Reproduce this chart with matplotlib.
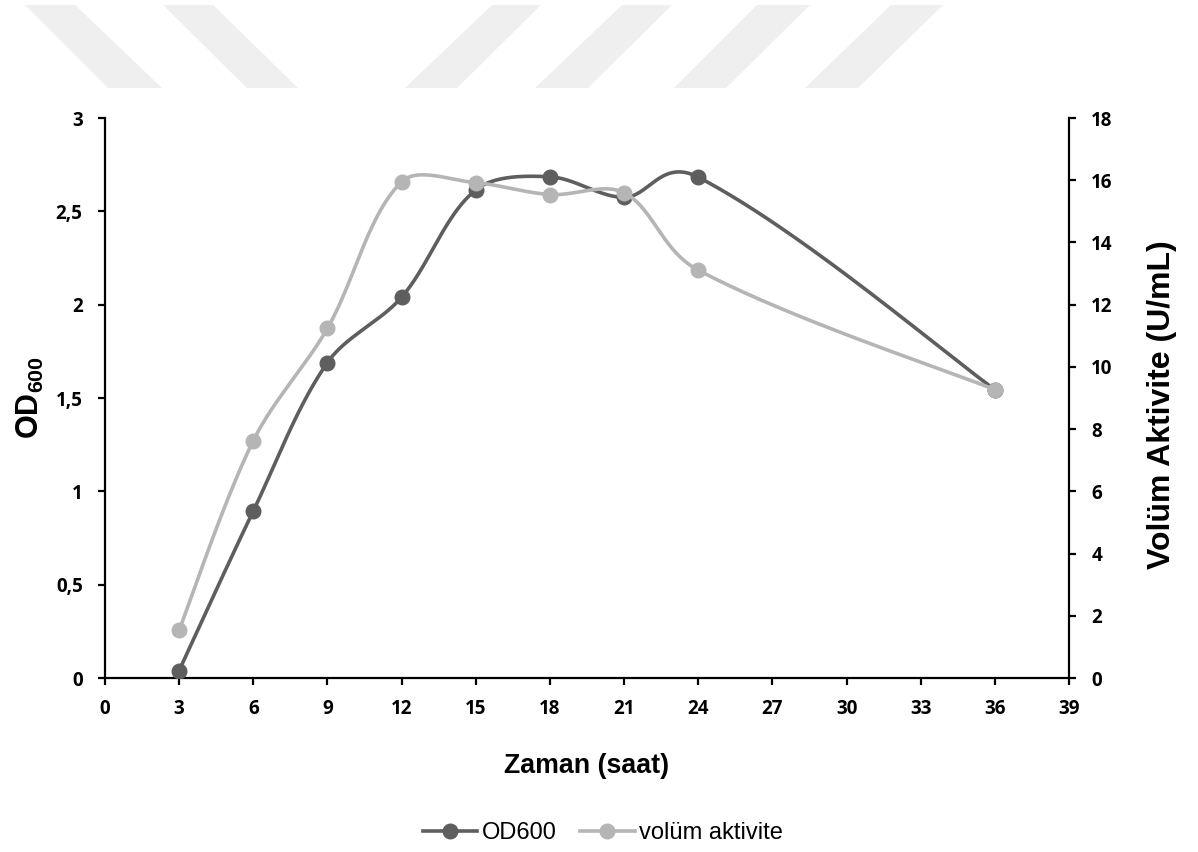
import numpy as np
import matplotlib
matplotlib.use("Agg")
import matplotlib.pyplot as plt
from matplotlib.patches import Polygon
from matplotlib.lines import Line2D

# ---- data ----
hours = [3, 6, 9, 12, 15, 18, 21, 24, 36]
od600 = [0.04, 0.895, 1.69, 2.04, 2.615, 2.685, 2.575, 2.683, 1.545]
activity = [1.54, 7.63, 11.24, 15.95, 15.92, 15.54, 15.6, 13.11, 9.27]
x_ticks = list(range(0, 40, 3))
left_ticks = [0, 0.5, 1, 1.5, 2, 2.5, 3]
right_ticks = list(range(0, 19, 2))
series_names = ['OD600', 'volüm aktivite']

DARK = "#5E5E5E"
LIGHT = "#B5B5B5"

plt.rcParams['mathtext.fontset'] = 'custom'
plt.rcParams['mathtext.rm'] = 'Liberation Sans'
plt.rcParams['mathtext.bf'] = 'Liberation Sans:bold'

W, H = 1198, 852
fig = plt.figure(figsize=(W / 100, H / 100), dpi=100)

# watermark stripes (figure pixel coords -> fraction)
stripes = [
    [(25, 5), (75, 5), (162, 88), (108, 88)],
    [(163, 5), (213, 5), (298, 88), (247, 88)],
    [(492, 5), (541, 5), (457, 88), (405, 88)],
    [(622, 5), (672, 5), (588, 88), (535, 88)],
    [(757, 5), (810, 5), (726, 88), (674, 88)],
    [(891, 5), (943, 5), (858, 88), (805, 88)],
]
for s in stripes:
    pts = [(px / W, 1 - py / H) for px, py in s]
    fig.patches.append(Polygon(pts, closed=True, transform=fig.transFigure,
                               facecolor="#EFEFEF", edgecolor="none", zorder=0))

ax_l, ax_r, ax_t, ax_b = 105, 1069, 118, 678
ax = fig.add_axes([ax_l / W, 1 - ax_b / H, (ax_r - ax_l) / W, (ax_b - ax_t) / H])
ax.patch.set_alpha(0)
ax2 = ax.twinx()

XMAX, Y1MAX, Y2MAX = 39, 3, 18
pw, ph = ax_r - ax_l, ax_b - ax_t


def smooth(xs, ys, ymax, n=60):
    # Excel-like smoothed line: cubic Bezier, tangents from neighbours,
    # arm lengths scaled by chord ratio (computed in screen space)
    px = np.array(xs, float) / XMAX * pw
    py = np.array(ys, float) / ymax * ph
    P = np.column_stack([px, py])
    m = len(P)
    tang = []
    for i in range(m):
        p0 = P[i - 1] if i > 0 else P[i]
        p2 = P[i + 1] if i + 1 < m else P[i]
        tang.append(p2 - p0)
    out = [P[0]]
    for i in range(m - 1):
        p1, p2 = P[i], P[i + 1]
        d12 = np.linalg.norm(p2 - p1)
        d01 = np.linalg.norm(p1 - P[i - 1]) if i > 0 else d12
        d23 = np.linalg.norm(P[i + 2] - p2) if i + 2 < m else d12
        f1 = d12 / (d01 + d12) / 3 if i > 0 else 1 / 6
        f2 = d12 / (d12 + d23) / 3 if i + 2 < m else 1 / 6
        f2 = max(f2, 0.1)
        c1 = p1 + tang[i] * f1
        c2 = p2 - tang[i + 1] * f2
        t = np.linspace(0, 1, n)[1:, None]
        b = (1 - t) ** 3 * p1 + 3 * (1 - t) ** 2 * t * c1 + 3 * (1 - t) * t ** 2 * c2 + t ** 3 * p2
        out.extend(b)
    out = np.array(out)
    return out[:, 0] / pw * XMAX, out[:, 1] / ph * ymax


LW, MS = 2.6, 10.5
sx, sy = smooth(hours, od600, Y1MAX)
ax.plot(sx, sy, color=DARK, lw=LW, solid_capstyle='round', zorder=3)
ax.plot(hours, od600, 'o', color=DARK, ms=MS, zorder=4)

sx2, sy2 = smooth(hours, activity, Y2MAX)
ax2.plot(sx2, sy2, color=LIGHT, lw=LW, solid_capstyle='round', zorder=3)
ax2.plot(hours, activity, 'o', color=LIGHT, ms=MS, zorder=4)

ax.set_xlim(0, XMAX)
ax.set_ylim(0, Y1MAX)
ax2.set_ylim(0, Y2MAX)

tick_font = dict(family='Open Sans', weight='bold', size=13.5)


def fmt(v):
    return ('%g' % v).replace('.', ',')


ax.set_xticks(x_ticks)
ax.set_xticklabels([str(v) for v in x_ticks], fontdict=tick_font)
ax.set_yticks(left_ticks)
ax.set_yticklabels([fmt(v) for v in left_ticks], fontdict=tick_font)
ax2.set_yticks(right_ticks)
ax2.set_yticklabels([str(v) for v in right_ticks], fontdict=tick_font)

for a in (ax, ax2):
    a.spines['top'].set_visible(False)
    for sp in a.spines.values():
        sp.set_linewidth(1.6)
        sp.set_color('black')
ax.spines['right'].set_visible(False)
ax2.spines['left'].set_visible(False)
ax2.spines['bottom'].set_visible(False)

ax.tick_params(axis='both', direction='out', length=5, width=1.6, color='black')
ax.tick_params(axis='y', pad=11)
ax.tick_params(axis='x', pad=10)
ax2.tick_params(axis='y', direction='out', length=5, width=1.6, pad=11)

fig.text(587 / W, 1 - 766 / H, 'Zaman (saat)', ha='center', va='center',
         family='Liberation Sans', weight='bold', size=19.3)
fig.text(30 / W, 1 - 398 / H, r'$\mathbf{OD_{600}}$', ha='center', va='center',
         rotation=90, size=22)
fig.text(1162 / W, 1 - 405 / H, 'Volüm Aktivite (U/mL)', ha='center', va='center',
         rotation=90, family='Liberation Sans', weight='bold', size=23)

handles = [Line2D([], [], color=DARK, lw=LW, marker='o', ms=MS),
           Line2D([], [], color=LIGHT, lw=LW, marker='o', ms=MS)]
fig.legend(handles, series_names, loc='center',
           bbox_to_anchor=(603 / W, 1 - 833 / H), ncol=2, frameon=False,
           prop=dict(family='Liberation Sans', size=17), handlelength=2.3,
           handletextpad=0.2, columnspacing=1.0, borderpad=0, borderaxespad=0)

fig.savefig('out.png', dpi=100)
